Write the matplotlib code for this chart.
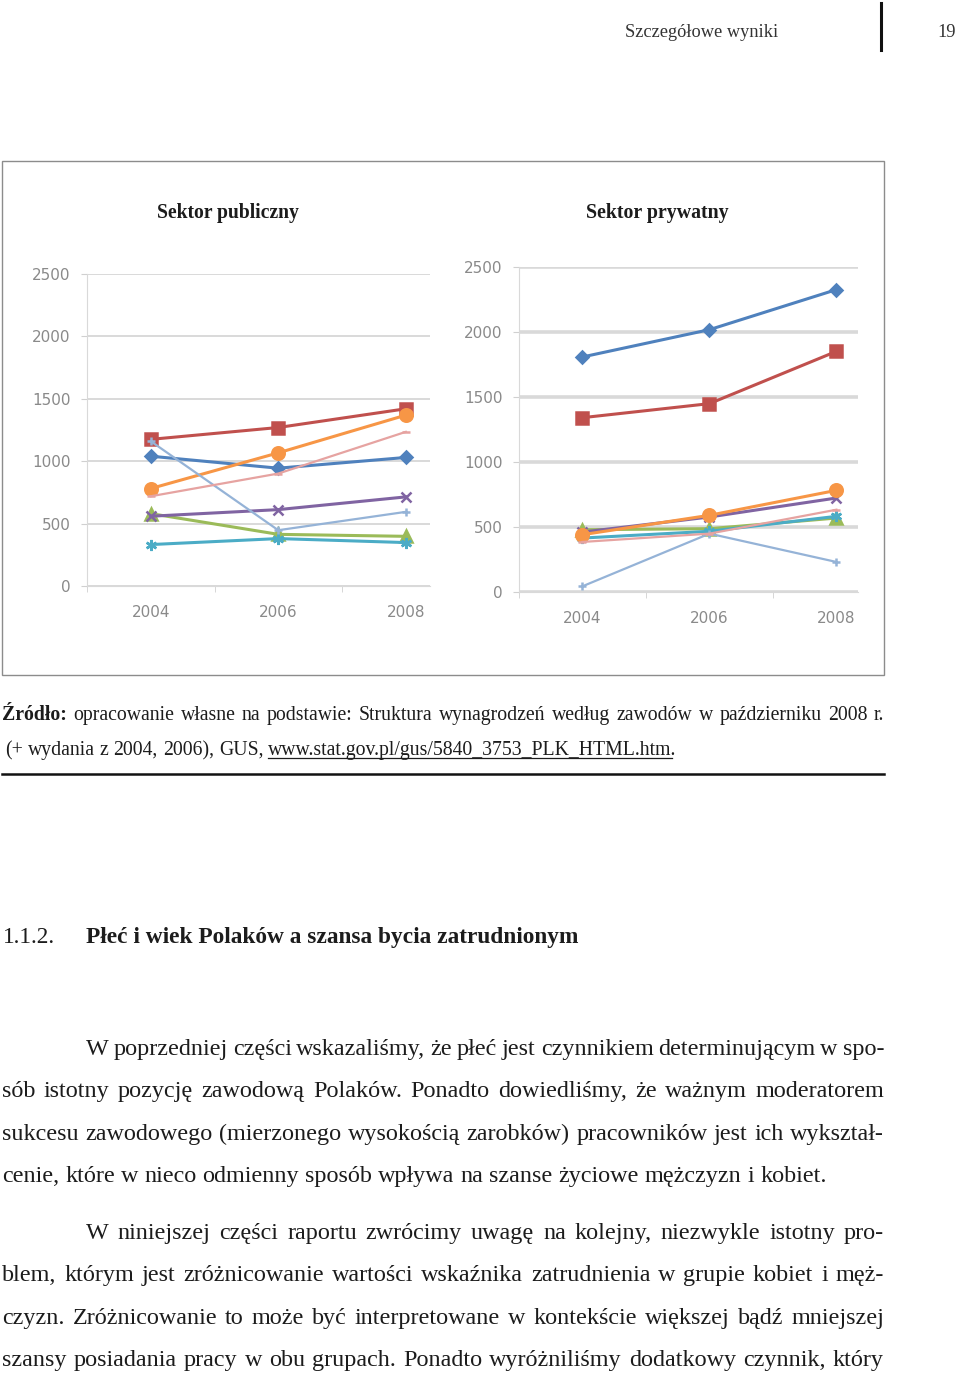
import matplotlib
matplotlib.use("Agg")
import matplotlib.pyplot as plt
from matplotlib.font_manager import FontProperties
from matplotlib.patches import Rectangle
from matplotlib.lines import Line2D

# Data
years = ["2004", "2006", "2008"]
y_ticks = [0, 500, 1000, 1500, 2000, 2500]

pub_blue = [1040, 944, 1030]
pub_red = [1175, 1270, 1420]
pub_green = [580, 414, 398]
pub_purple = [559, 612, 714]
pub_teal = [332, 380, 348]
pub_orange = [781, 1067, 1369]
pub_lightblue = [1160, 447, 594]
pub_pink = [719, 901, 1235]

prv_blue = [1808, 2018, 2326]
prv_red = [1341, 1449, 1851]
prv_green = [479, 487, 569]
prv_purple = [461, 577, 723]
prv_teal = [415, 467, 582]
prv_orange = [441, 590, 782]
prv_lightblue = [44, 449, 231]
prv_pink = [385, 449, 633]

titles = ["Sektor publiczny", "Sektor prywatny"]

header = "Szczegółowe wyniki"
page_no = "19"
source_1 = "Źródło: opracowanie własne na podstawie: Struktura wynagrodzeń według zawodów w październiku 2008 r."
source_2 = "(+ wydania z 2004, 2006), GUS, www.stat.gov.pl/gus/5840_3753_PLK_HTML.htm."
heading_no = "1.1.2."
heading = "Płeć i wiek Polaków a szansa bycia zatrudnionym"
para_1 = [
    "W poprzedniej części wskazaliśmy, że płeć jest czynnikiem determinującym w spo-",
    "sób istotny pozycję zawodową Polaków. Ponadto dowiedliśmy, że ważnym moderatorem",
    "sukcesu zawodowego (mierzonego wysokością zarobków) pracowników jest ich wykształ-",
    "cenie, które w nieco odmienny sposób wpływa na szanse życiowe mężczyzn i kobiet.",
]
para_2 = [
    "W niniejszej części raportu zwrócimy uwagę na kolejny, niezwykle istotny pro-",
    "blem, którym jest zróżnicowanie wartości wskaźnika zatrudnienia w grupie kobiet i męż-",
    "czyzn. Zróżnicowanie to może być interpretowane w kontekście większej bądź mniejszej",
    "szansy posiadania pracy w obu grupach. Ponadto wyróżniliśmy dodatkowy czynnik, który",
]

# color, marker, markersize, linewidth
styles = [
    ("#4F81BD", "D", 6.5, 2.2),
    ("#C0504D", "s", 9, 2.2),
    ("#9BBB59", "^", 8, 2.2),
    ("#8064A2", "x", 7, 2.2),
    ("#4BACC6", (6, 2, 0), 8, 2.2),
    ("#F79646", "o", 9, 2.2),
    ("#95B3D7", "+", 6, 1.6),
    ("#E6A3A1", "_", 6, 1.6),
]

W, H = 960, 1381
fig = plt.figure(figsize=(W / 100, H / 100), dpi=100)
renderer = fig.canvas.get_renderer()
SERIF = "Liberation Serif"
INK = "#1c1c1c"


def fx(x):
    return x / W


def fy(y):
    return 1 - y / H


def text_w(s, size, weight="normal"):
    fp = FontProperties(family=SERIF, size=size, weight=weight)
    w, h, d = renderer.get_text_width_height_descent(s, fp, ismath=False)
    return w


def fit_size(s, width, weight="normal"):
    return 10 * width / text_w(s, 10, weight)


def put_line(line, x0, x1, y, size, justify=True, bold_first=False):
    words = line.split(" ")
    weights = ["bold" if (bold_first and i == 0) else "normal" for i in range(len(words))]
    widths = [text_w(w, size, wt) for w, wt in zip(words, weights)]
    space = text_w("a b", size) - text_w("ab", size)
    gap = space
    if justify and len(words) > 1:
        gap = max((x1 - x0 - sum(widths)) / (len(words) - 1), 0.5 * space)
    x = x0
    pos = []
    for w, wd, wt in zip(words, widths, weights):
        fig.text(fx(x), fy(y), w, fontsize=size, family=SERIF, weight=wt,
                 ha="left", va="baseline", color=INK)
        pos.append(x)
        x += wd + gap
    return words, pos


# Page header
hs = fit_size(header, 153)
fig.text(fx(625), fy(37), header, fontsize=hs, family=SERIF, color="#333333",
         ha="left", va="baseline")
fig.text(fx(937), fy(37), page_no, fontsize=hs, family=SERIF, color="#333333",
         ha="left", va="baseline")
fig.add_artist(Line2D([fx(881), fx(881)], [fy(3), fy(50)], color="#111111", lw=2.2))

# Chart frame
fig.add_artist(Rectangle((fx(2), fy(675)), fx(884) - fx(2), (675 - 161) / H,
                         transform=fig.transFigure, fill=False, ec="#8c8c8c", lw=1))


def draw_panel(l, t, r, b, series, title, title_x, grid_lw, xmax):
    ax = fig.add_axes([fx(l), fy(b), fx(r) - fx(l), (b - t) / H])
    for vals, (c, m, ms, lw) in zip(series, styles):
        ax.plot(range(len(years)), vals, color=c, marker=m, ms=ms, lw=lw,
                mec=c, mew=1.8, clip_on=False)
    ax.set_xlim(-0.5, xmax)
    ax.set_ylim(0, 2500)
    ax.set_yticks(y_ticks)
    ax.yaxis.grid(True, color="#d9d9d9", lw=grid_lw)
    ax.set_axisbelow(True)
    ax.set_xticks(range(len(years)))
    ax.set_xticklabels(years)
    ax.set_xticks([-0.5, 0.5, 1.5], minor=True)
    ax.tick_params(axis="x", which="major", length=0, pad=14, labelsize=11,
                   labelcolor="#8a8a8a")
    ax.tick_params(axis="x", which="minor", length=4, color="#d0d0d0")
    ax.tick_params(axis="y", length=4, color="#d0d0d0", pad=8, labelsize=11,
                   labelcolor="#8a8a8a")
    for s in ["top", "right"]:
        ax.spines[s].set_visible(False)
    for s in ["left", "bottom"]:
        ax.spines[s].set_color("#d9d9d9")
    ts = fit_size(title, 143, "bold")
    fig.text(fx(title_x), fy(218), title, fontsize=ts, family=SERIF, weight="bold",
             ha="center", va="baseline", color=INK)
    return ax


pub = [pub_blue, pub_red, pub_green, pub_purple, pub_teal, pub_orange, pub_lightblue, pub_pink]
prv = [prv_blue, prv_red, prv_green, prv_purple, prv_teal, prv_orange, prv_lightblue, prv_pink]
draw_panel(87, 274, 430, 586, pub, titles[0], 228, 1.4, 2.19)
draw_panel(519, 267, 858, 592, prv, titles[1], 657, 2.6, 2.17)

# Source note
ss = min(fit_size(source_2, 712), fit_size(source_1, 860))
put_line(source_1, 2, 884, 720, ss, justify=True, bold_first=True)
words, pos = put_line(source_2, 5, 884, 755, ss, justify=False)
url = words[-1][:-1]
ux = pos[-1]
fig.add_artist(Line2D([fx(ux), fx(ux + text_w(url, ss))], [fy(758), fy(758)],
                      color=INK, lw=0.9))
fig.add_artist(Line2D([fx(2), fx(884)], [fy(774), fy(774)], color="#111111", lw=1.8))

# Section heading
hd = fit_size(heading, 495, "bold")
fig.text(fx(3), fy(943), heading_no, fontsize=hd, family=SERIF, color=INK,
         ha="left", va="baseline")
fig.text(fx(86), fy(943), heading, fontsize=hd, family=SERIF, weight="bold",
         color=INK, ha="left", va="baseline")

# Body text: size chosen so the full lines need little extra spacing
bs = fit_size(para_1[1], 862)
for i, line in enumerate(para_1):
    x0 = 86 if i == 0 else 2
    put_line(line, x0, 884, 1055 + i * 42.3, bs, justify=(i < 3))
for i, line in enumerate(para_2):
    x0 = 86 if i == 0 else 2
    put_line(line, x0, 884, 1239 + i * 42.3, bs, justify=True)

fig.savefig("out.png", dpi=100, facecolor="white")
